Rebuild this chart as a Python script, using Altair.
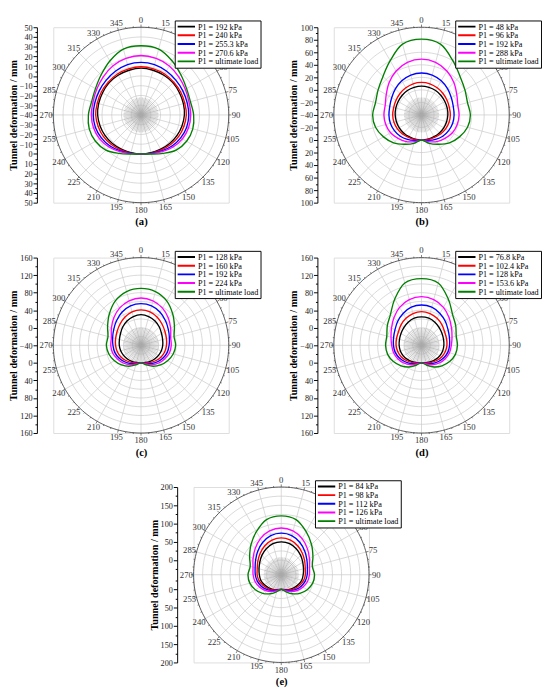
import altair as alt
import pandas as pd

ANGLES = list(range(0, 360, 15))
COLORS = ["#000000", "#ff0000", "#0000ff", "#ff00ff", "#008000"]

A_LABELS = ["P1 = 192 kPa", "P1 = 240 kPa", "P1 = 255.3 kPa", "P1 = 270.6 kPa", "P1 = ultimate load"]
A_BLACK = [8, 7.5, 7, 6.5, 5.5, 5, 4.5, 3.5, 2.5, 1.5, 0.5, 0, 0, 0, 0.5, 1.5, 2.5, 3.5, 4.5, 5, 5.5, 6.5, 7, 7.5]
A_RED = [9.5, 9, 8.5, 7.5, 7, 6.5, 6.5, 5.5, 4.5, 3, 1.5, 0.5, 0, 0.5, 1.5, 3, 4.5, 5.5, 6.5, 6.5, 7, 7.5, 8.5, 9]
A_BLUE = [14, 13.5, 12, 10.5, 9.5, 9, 9, 8.5, 7, 5, 2.5, 0.5, 0, 0.5, 2.5, 5, 7, 8.5, 9, 9, 9.5, 10.5, 12, 13.5]
A_MAG = [21, 20, 18, 15, 12.5, 11, 11, 10.5, 9, 6.5, 3.5, 1, 0, 1, 3.5, 6.5, 9, 10.5, 11, 11, 12.5, 15, 18, 20]
A_GREEN = [31, 30, 24, 18, 14, 12.5, 14, 15, 14, 11, 5.5, 1.5, 0, 1.5, 5.5, 11, 14, 15, 14, 12.5, 14, 18, 24, 30]

B_LABELS = ["P1 = 48 kPa", "P1 = 96 kPa", "P1 = 192 kPa", "P1 = 288 kPa", "P1 = ultimate load"]
B_BLACK = [6, 5.5, 5, 4, 3, 2.5, 2, 1.5, 1, 0.5, 0, 0, 0, 0, 0, 0.5, 1, 1.5, 2, 2.5, 3, 4, 5, 5.5]
B_RED = [12, 11.5, 10, 8.5, 7, 6, 6, 5.5, 4.5, 3, 1.5, 0.5, 0, 0.5, 1.5, 3, 4.5, 5.5, 6, 6, 7, 8.5, 10, 11.5]
B_BLUE = [27, 26, 23, 19, 15, 12.5, 12, 11.5, 10, 8, 5, 2, 0, 2, 5, 8, 10, 11.5, 12, 12.5, 15, 19, 23, 26]
B_MAG = [49, 47, 41, 33, 25, 20, 20, 19, 17, 13, 9, 4, 0, 4, 9, 13, 17, 19, 20, 20, 25, 33, 41, 47]
B_GREEN = [81, 77, 60, 47, 40, 36, 38, 36, 30, 23, 14, 7, 0, 7, 14, 23, 30, 36, 38, 36, 40, 47, 60, 77]

C_LABELS = ["P1 = 128 kPa", "P1 = 160 kPa", "P1 = 192 kPa", "P1 = 224 kPa", "P1 = ultimate load"]
C_BLACK = [30, 28, 24, 19, 14, 11, 9.5, 8, 6, 4, 2, 0.5, 0, 0.5, 2, 4, 6, 8, 9.5, 11, 14, 19, 24, 28]
C_RED = [41, 39, 34, 28, 23, 20, 18, 16, 13, 9, 5, 1.5, 0, 1.5, 5, 9, 13, 16, 18, 20, 23, 28, 34, 39]
C_BLUE = [55, 53, 47, 39, 32, 27, 24, 22, 18, 13, 8, 3, 0, 3, 8, 13, 18, 22, 24, 27, 32, 39, 47, 53]
C_MAG = [68, 65, 58, 48, 38, 30, 29, 27, 22, 17, 11, 4, 0, 4, 11, 17, 22, 27, 29, 30, 38, 48, 58, 65]
C_GREEN = [90, 87, 77, 62, 48, 38, 39, 36, 30, 23, 15, 6, 0, 6, 15, 23, 30, 36, 39, 38, 48, 62, 77, 87]

D_LABELS = ["P1 = 76.8 kPa", "P1 = 102.4 kPa", "P1 = 128 kPa", "P1 = 153.6 kPa", "P1 = ultimate load"]
D_BLACK = [25, 24, 21, 17, 14, 12, 11, 10, 8, 5.5, 3, 1, 0, 1, 3, 5.5, 8, 10, 11, 12, 14, 17, 21, 24]
D_RED = [37, 35, 31, 26, 21, 19, 18, 16, 13, 9, 5, 1.5, 0, 1.5, 5, 9, 13, 16, 18, 19, 21, 26, 31, 35]
D_BLUE = [52, 50, 44, 37, 30, 26, 24, 22, 18, 13, 8, 3, 0, 3, 8, 13, 18, 22, 24, 26, 30, 37, 44, 50]
D_MAG = [71, 68, 60, 49, 39, 32, 28, 26, 22, 17, 11, 4, 0, 4, 11, 17, 22, 26, 28, 32, 39, 49, 60, 68]
D_GREEN = [112, 107, 82, 60, 50, 42, 42, 40, 34, 26, 17, 7, 0, 7, 17, 26, 34, 40, 42, 42, 50, 60, 82, 107]

E_LABELS = ["P1 = 84 kPa", "P1 = 98 kPa", "P1 = 112 kPa", "P1 = 126 kPa", "P1 = ultimate load"]
E_BLACK = [50, 48, 42, 35, 28, 23, 20, 18, 14, 10, 6, 2, 0, 2, 6, 10, 14, 18, 20, 23, 28, 35, 42, 48]
E_RED = [61, 58, 51, 42, 34, 28, 26, 23, 18, 13, 8, 3, 0, 3, 8, 13, 18, 23, 26, 28, 34, 42, 51, 58]
E_BLUE = [74, 71, 62, 51, 41, 34, 31, 28, 23, 17, 10, 4, 0, 4, 10, 17, 23, 28, 31, 34, 41, 51, 62, 71]
E_MAG = [88, 84, 74, 61, 49, 40, 37, 34, 28, 21, 13, 5, 0, 5, 13, 21, 28, 34, 37, 40, 49, 61, 74, 84]
E_GREEN = [121, 116, 96, 77, 60, 48, 51, 49, 42, 32, 20, 8, 0, 8, 20, 32, 42, 49, 51, 48, 60, 77, 96, 116]

SIZE = 182
FONT = "Liberation Serif"


def panel(tag, rmin, rmax, label_step, minor_step, ring_step, labels, series):
    R = rmax - rmin
    sc = alt.Scale(domain=[-R, R], nice=False, zero=False)
    half = SIZE / 2.0

    vals = []
    v = rmin
    while v % minor_step:
        v += 1
    while v <= rmax:
        d = v - rmin
        vals.append(d)
        if d > 0:
            vals.append(-d)
        v += minor_step
    vals = sorted(set(vals))
    vexpr = f"(abs(datum.value) + ({rmin}))"
    yaxis = alt.Axis(
        values=vals,
        labelExpr=f"{vexpr} % {label_step} === 0 ? format({vexpr}, 'd') : ''",
        tickSize={"condition": {"test": f"{vexpr} % {label_step} === 0", "value": 4}, "value": 2},
        offset=17, grid=False, domainColor="black", tickColor="black",
        labelFont=FONT, labelFontSize=8.5, labelColor="#222", labelPadding=1,
        title="Tunnel deformation / mm", titleFont=FONT, titleFontSize=10.5,
        titleFontWeight="bold", titleColor="black", titlePadding=1,
    )
    xaxis = alt.Axis(labels=False, ticks=False, domain=False, grid=False,
                     title=tag, titleFont=FONT, titleFontSize=11, titleFontWeight="bold",
                     titleColor="black", titlePadding=14)

    def X(f):
        return alt.X(f, type="quantitative", scale=sc, axis=xaxis)

    def Y(f):
        return alt.Y(f, type="quantitative", scale=sc, axis=yaxis)

    rings = []
    v = rmin + 1
    while v < rmax:
        if v % ring_step == 0:
            rings.append(v - rmin)
        v += 1

    ring_layer = alt.Chart(pd.DataFrame({"d": rings})).transform_calculate(
        a="sequence(0, 361, 3)"
    ).transform_flatten(["a"]).transform_calculate(
        px="datum.d*sin(datum.a*PI/180)", py="datum.d*cos(datum.a*PI/180)"
    ).mark_line(stroke="#c8c8c8", strokeWidth=0.7).encode(
        x=X("px"), y=Y("py"), detail="d:Q", order="a:Q")

    outer = alt.Chart(pd.DataFrame({"d": [R]})).transform_calculate(
        a="sequence(0, 361, 2)"
    ).transform_flatten(["a"]).transform_calculate(
        px="datum.d*sin(datum.a*PI/180)", py="datum.d*cos(datum.a*PI/180)"
    ).mark_line(stroke="#444", strokeWidth=0.9).encode(
        x=X("px"), y=Y("py"), detail="d:Q", order="a:Q")

    spokes = alt.Chart(pd.DataFrame({"a": ANGLES})).transform_calculate(
        z="0", px=f"{R}*sin(datum.a*PI/180)", py=f"{R}*cos(datum.a*PI/180)"
    ).mark_rule(stroke="#c8c8c8", strokeWidth=0.7).encode(
        x=X("z"), y=Y("z"), x2="px:Q", y2="py:Q")

    minor = alt.Chart(pd.DataFrame({"a": list(range(0, 360, 5))})).transform_calculate(
        z="0", px=f"{R*0.2}*sin(datum.a*PI/180)", py=f"{R*0.2}*cos(datum.a*PI/180)"
    ).mark_rule(stroke="#aaaaaa", strokeWidth=0.5).encode(
        x=X("z"), y=Y("z"), x2="px:Q", y2="py:Q")

    ticks = alt.Chart(pd.DataFrame({"a": list(range(0, 360, 5))})).transform_calculate(
        k="datum.a % 15 === 0 ? 1.03 : 1.015",
        px0=f"{R}*sin(datum.a*PI/180)", py0=f"{R}*cos(datum.a*PI/180)",
        px=f"{R}*datum.k*sin(datum.a*PI/180)", py=f"{R}*datum.k*cos(datum.a*PI/180)"
    ).mark_rule(stroke="#444", strokeWidth=0.7).encode(
        x=X("px0"), y=Y("py0"), x2="px:Q", y2="py:Q")

    rl = R * (1 + 7.5 / half)
    alabels = alt.Chart(pd.DataFrame({"a": ANGLES})).transform_calculate(
        px=f"{rl}*sin(datum.a*PI/180)", py=f"{rl}*cos(datum.a*PI/180)",
        t="''+datum.a"
    ).mark_text(font=FONT, fontSize=9, color="#333", align="center", baseline="middle").encode(
        x=X("px"), y=Y("py"), text="t:N")

    rows = []
    for lab, vs in zip(labels, series):
        for a, val in zip(ANGLES, vs):
            rows.append({"series": lab, "angle": a, "value": val})
    curves = alt.Chart(pd.DataFrame(rows)).transform_calculate(
        d=f"datum.value - ({rmin})"
    ).transform_calculate(
        px="datum.d*sin(datum.angle*PI/180)", py="datum.d*cos(datum.angle*PI/180)"
    ).mark_line(interpolate="cardinal-closed", strokeWidth=1.4).encode(
        x=X("px"), y=Y("py"),
        color=alt.Color("series:N", scale=alt.Scale(domain=labels, range=COLORS),
                        legend=alt.Legend(title=None, orient="none", legendX=126, legendY=-7,
                                          fillColor="white", strokeColor="black", padding=2,
                                          labelFont=FONT, labelFontSize=8.5, labelColor="black",
                                          symbolType="stroke", symbolStrokeWidth=2, symbolSize=324,
                                          rowPadding=0, clipHeight=8.8, labelOffset=2)),
        order="angle:Q")

    return alt.layer(ring_layer, spokes, minor, outer, ticks, alabels, curves).properties(
        width=SIZE, height=SIZE)


pa = panel("(a)", -40, 50, 10, 5, 10, A_LABELS, [A_BLACK, A_RED, A_BLUE, A_MAG, A_GREEN])
pb = panel("(b)", -40, 100, 20, 10, 20, B_LABELS, [B_BLACK, B_RED, B_BLUE, B_MAG, B_GREEN])
pc = panel("(c)", -40, 160, 40, 20, 20, C_LABELS, [C_BLACK, C_RED, C_BLUE, C_MAG, C_GREEN])
pd_ = panel("(d)", -40, 160, 40, 20, 20, D_LABELS, [D_BLACK, D_RED, D_BLUE, D_MAG, D_GREEN])
pe = panel("(e)", -40, 200, 50, 25, 25, E_LABELS, [E_BLACK, E_RED, E_BLUE, E_MAG, E_GREEN])

res = dict(color="independent", x="independent", y="independent")
row1 = alt.hconcat(pa, pb, spacing=28).resolve_scale(**res)
row2 = alt.hconcat(pc, pd_, spacing=28).resolve_scale(**res)
chart = alt.vconcat(row1, row2, pe, spacing=18, center=True,
                    padding={"left": 0, "top": -6, "right": 0, "bottom": 0}).resolve_scale(**res)
chart = chart.configure_view(stroke=None).configure(background="white")

chart.save("out.html", embed_options={"renderer": "svg", "actions": False})
